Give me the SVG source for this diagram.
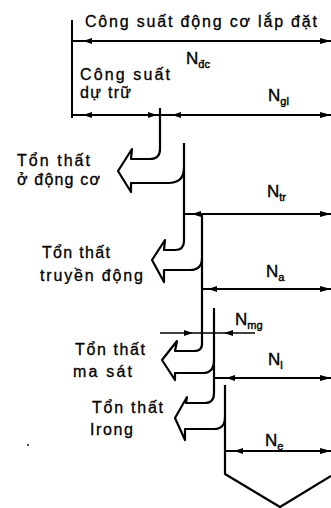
<svg xmlns="http://www.w3.org/2000/svg" xmlns:xlink="http://www.w3.org/1999/xlink" width="331" height="508" viewBox="0 0 331 508">
  <style>
    .ln { stroke: #000; stroke-width: 2; fill: none; }
    .thin { stroke: #000; stroke-width: 1.3; fill: none; }
    .flow { stroke: #000; stroke-width: 2.2; fill: none; stroke-linejoin: round; }
    .lbl { font-family: "Liberation Sans", Arial, sans-serif; font-size: 16px; fill: #000; stroke: #000; stroke-width: 0.3; }
    .sym { font-family: "Liberation Sans", Arial, sans-serif; font-size: 17px; fill: #000; stroke: #000; stroke-width: 0.4; }
    .sub { font-size: 11px; }
  </style>
  <defs>
    <marker id="end" markerUnits="userSpaceOnUse" markerWidth="12" markerHeight="8" refX="11" refY="4" orient="auto">
      <path d="M0,1 L11,4 L0,7 Z" fill="#000"/>
    </marker>
    <path id="tipL" d="M0,0 L9,-3 L9,3 Z" fill="#000"/>
    <path id="tipR" d="M0,0 L-9,-3 L-9,3 Z" fill="#000"/>
  </defs>

  <!-- dimension lines -->
  <g id="connectors">
    <line class="ln" x1="72" y1="20" x2="72" y2="118"/>
    <line class="ln" x1="72" y1="41" x2="331" y2="41" marker-end="url(#end)"/>
    <use xlink:href="#tipL" x="83" y="41"/>
    <line class="ln" x1="73" y1="115" x2="331" y2="115" marker-end="url(#end)"/>
    <use xlink:href="#tipL" x="83" y="115"/>
    <use xlink:href="#tipR" x="157" y="115"/>
    <use xlink:href="#tipL" x="172" y="115"/>

    <line class="ln" x1="183" y1="214" x2="331" y2="214" marker-end="url(#end)"/>
    <use xlink:href="#tipL" x="192" y="214"/>

    <line class="ln" x1="202" y1="289" x2="331" y2="289" marker-end="url(#end)"/>
    <use xlink:href="#tipL" x="208" y="289"/>

    <line class="thin" x1="160" y1="333" x2="255" y2="333"/>
    <use xlink:href="#tipR" x="193" y="333"/>
    <use xlink:href="#tipL" x="224" y="333"/>

    <line class="ln" x1="214" y1="378" x2="331" y2="378" marker-end="url(#end)"/>
    <use xlink:href="#tipL" x="226" y="378"/>

    <line class="ln" x1="225" y1="451" x2="331" y2="451" marker-end="url(#end)"/>
    <use xlink:href="#tipL" x="234" y="451"/>
  </g>

  <!-- power flow and loss branches -->
  <g id="loss-engine">
    <path class="flow" d="M160,108 V149 Q160,159 150,159 H131 L132,149 L118,171 L131,192 L131,183 H168 Q184,183 184,168"/>
  </g>
  <g id="loss-transmission">
    <path class="flow" d="M184,143 V241 Q184,250 175,250 H164 L165,240 L152,260 L164,282 L164,270 H190 Q202,270 202,258"/>
  </g>
  <g id="loss-friction">
    <path class="flow" d="M202,213 V342 Q203,351 194,351 H175 L177,341 L162,360 L175,380 L175,373 H203 Q214,373 214,360"/>
  </g>
  <g id="loss-internal">
    <path class="flow" d="M214,308 V393 Q214,403 205,403 H186 L187,397 L175,418 L185,440 L185,429 H214 Q225,429 225,417"/>
  </g>
  <g id="output">
    <path class="flow" d="M225,385 V474 L280,507 L331,476"/>
  </g>

  <!-- labels -->
  <g id="labels">
    <text class="lbl" x="85" y="27" textLength="232" lengthAdjust="spacing">Công suất động cơ lắp đặt</text>
    <text class="lbl" x="80" y="80" textLength="90" lengthAdjust="spacing">Công suất</text>
    <text class="lbl" x="80" y="98" textLength="51" lengthAdjust="spacing">dự trữ</text>
    <text class="lbl" x="17" y="166" textLength="73" lengthAdjust="spacing">Tổn thất</text>
    <text class="lbl" x="17" y="185" textLength="83" lengthAdjust="spacing">ở động cơ</text>
    <text class="lbl" x="42" y="258" textLength="68" lengthAdjust="spacing">Tổn thất</text>
    <text class="lbl" x="40" y="281" textLength="103" lengthAdjust="spacing">truyền động</text>
    <text class="lbl" x="75" y="355" textLength="70" lengthAdjust="spacing">Tổn thất</text>
    <text class="lbl" x="73" y="377" textLength="59" lengthAdjust="spacing">ma sát</text>
    <text class="lbl" x="92" y="413" textLength="71" lengthAdjust="spacing">Tổn thất</text>
    <text class="lbl" x="90" y="435" textLength="43" lengthAdjust="spacing">Irong</text>

    <text class="sym" x="186" y="64">N<tspan class="sub" dy="4">đc</tspan></text>
    <text class="sym" x="268" y="101">N<tspan class="sub" dy="4">gl</tspan></text>
    <text class="sym" x="267" y="197">N<tspan class="sub" dy="4">tr</tspan></text>
    <text class="sym" x="266" y="277">N<tspan class="sub" dy="4">a</tspan></text>
    <text class="sym" x="235" y="325">N<tspan class="sub" dy="4">mg</tspan></text>
    <text class="sym" x="268" y="365">N<tspan class="sub" dy="4">l</tspan></text>
    <text class="sym" x="265" y="446">N<tspan class="sub" dy="4">e</tspan></text>
  </g>
  <circle cx="28" cy="445" r="0.9" fill="#000"/>
</svg>
